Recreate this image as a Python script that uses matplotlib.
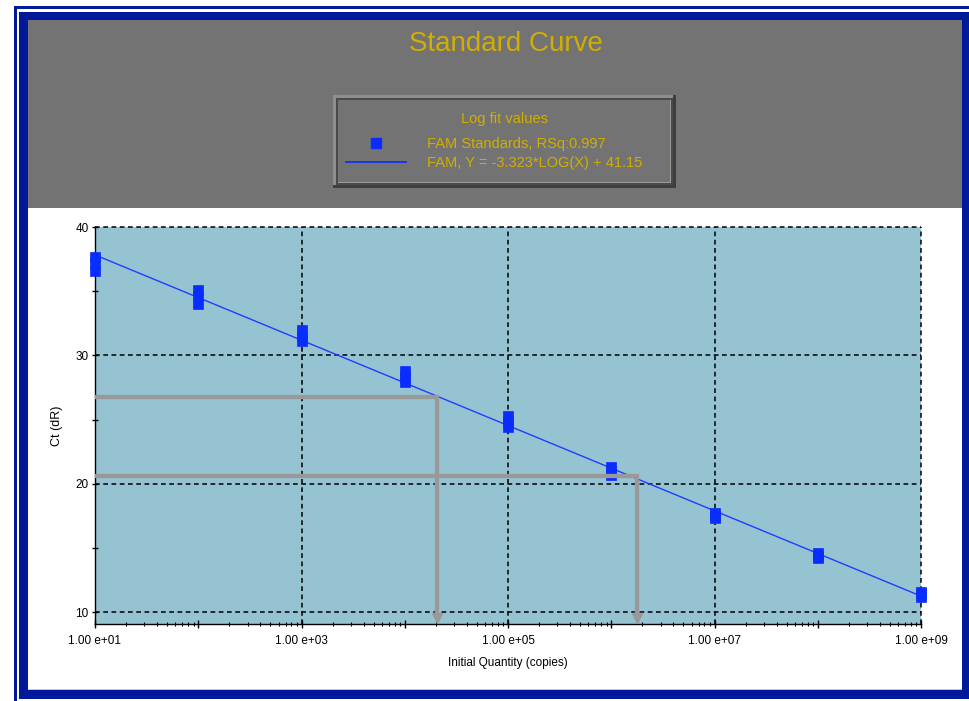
import matplotlib.pyplot as plt
import numpy as np
from matplotlib.patches import Rectangle
from matplotlib.lines import Line2D
from matplotlib.ticker import LogLocator, FuncFormatter, FixedLocator

# Standards (copies) and replicate Ct values
quantities = [1e1, 1e2, 1e3, 1e4, 1e5, 1e6, 1e7, 1e8, 1e9]
ct_rep_a = [37.7, 35.1, 32.0, 28.8, 25.3, 21.3, 17.7, 14.6, 11.6]
ct_rep_b = [37.2, 34.6, 31.5, 28.3, 24.8, 21.0, 17.5, 14.4, 11.4]
ct_rep_c = [36.6, 34.0, 31.1, 27.9, 24.4, 20.7, 17.3, 14.2, 11.2]

# log fit from the legend
fit_slope = -3.323
fit_intercept = 41.15

# unknowns read back through the curve (grey arrows)
unknown_ct = [26.75, 20.62]
unknown_qty = [10 ** 4.314, 10 ** 6.252]

W, H = 969, 701
NAVY = '#00189a'
GOLD = '#d2ae00'
HEADER = '#737373'
PLOT_BG = '#96c3d2'
BLUE = '#0a2dff'
GREY = '#999999'
FONT = 'Liberation Sans'

fig = plt.figure(figsize=(W / 100, H / 100), dpi=100)
fig.patch.set_facecolor('white')


def px_rect(x0, y0, x1, y1, color, z=0):
    """rectangle given in pixel coords (origin top-left)"""
    fig.add_artist(Rectangle((x0 / W, 1 - y1 / H), (x1 - x0) / W, (y1 - y0) / H,
                             transform=fig.transFigure, facecolor=color,
                             edgecolor='none', zorder=z))


def fx(x):
    return x / W


def fy(y):
    return 1 - y / H


# window frame
px_rect(14, 6, 969, 9, NAVY)
px_rect(14, 6, 17, 701, NAVY)
px_rect(19, 12, 969, 699, NAVY)
px_rect(28, 20, 962, 208, HEADER)
px_rect(28, 208, 962, 690, 'white')
px_rect(28, 689, 962, 690, '#c8c8c8')

fig.text(fx(506), fy(44), 'Standard Curve', color=GOLD, fontsize=20,
         family=FONT, ha='center', va='center')

# legend box with bevel
px_rect(333, 95, 676, 188, '#3e3e3e')
px_rect(333, 95, 673, 185, '#8e8e8e')
px_rect(336, 98, 673, 185, '#4a4a4a')
px_rect(338, 100, 671, 183, '#9a9a9a')
px_rect(338, 100, 670, 182, HEADER)

fig.text(fx(505), fy(119), 'Log fit values', color=GOLD, fontsize=10.5,
         family=FONT, ha='center', va='center')
fig.add_artist(Line2D([fx(376)], [fy(143)], marker='s', ms=6.5, color=BLUE,
                      transform=fig.transFigure))
fig.add_artist(Line2D([fx(346), fx(406)], [fy(162), fy(162)], color=BLUE, lw=1.2,
                      transform=fig.transFigure))
fig.text(fx(427), fy(144), 'FAM Standards, RSq:0.997', color=GOLD, fontsize=10.5,
         family=FONT, ha='left', va='center')
fig.text(fx(427), fy(163), 'FAM, Y = -3.323*LOG(X) + 41.15', color=GOLD, fontsize=10.5,
         family=FONT, ha='left', va='center')

# plot area
ax = fig.add_axes([fx(95), fy(624), (921 - 95) / W, (624 - 227) / H])
ax.set_facecolor(PLOT_BG)
ax.set_xscale('log')
ax.set_xlim(1e1, 1e9)
ax.set_ylim(9.07, 40)

dash = (0, (3.1, 2.3))
for gx in [1e3, 1e5, 1e7, 1e9]:
    ax.axvline(gx, color='black', ls=dash, lw=1.1, clip_on=False, zorder=1)
for gy in [10, 20, 30, 40]:
    ax.axhline(gy, color='black', ls=dash, lw=1.1, clip_on=False, zorder=1)

for s in ['top', 'right']:
    ax.spines[s].set_visible(False)
for s in ['left', 'bottom']:
    ax.spines[s].set_linewidth(1.0)

fit_x = np.array([quantities[0], quantities[-1]])
fit_y = fit_slope * np.log10(fit_x) + fit_intercept
ax.plot(fit_x, fit_y, color='#1f3cff', lw=1.0, zorder=3)

for reps in [ct_rep_a, ct_rep_b, ct_rep_c]:
    ax.plot(quantities, reps, 's', ms=6.5, color=BLUE, mec=BLUE, mew=0.5,
            zorder=4, clip_on=False)

for q, c in zip(unknown_qty, unknown_ct):
    ax.plot([1e1, q, q], [c, c, 9.6], color=GREY, lw=3.1, solid_joinstyle='miter',
            solid_capstyle='butt', zorder=5)
    ax.plot([q], [9.52], 'v', ms=7.2, color=GREY, zorder=5, clip_on=False)

ax.xaxis.set_major_locator(LogLocator(base=10, numticks=20))
ax.xaxis.set_minor_locator(LogLocator(base=10, subs=np.arange(2, 10), numticks=20))


def fmt_q(v, pos):
    e = int(round(np.log10(v)))
    return '1.00 e+%02d' % e if e % 2 == 1 else ''


ax.xaxis.set_major_formatter(FuncFormatter(fmt_q))
ax.xaxis.set_minor_formatter(FuncFormatter(lambda v, p: ''))
ax.yaxis.set_major_locator(FixedLocator([10, 20, 30, 40]))
ax.yaxis.set_minor_locator(FixedLocator([15, 25, 35]))

ax.tick_params(axis='x', which='major', direction='inout', length=6, width=1, pad=5,
               labelsize=8.5)
ax.tick_params(axis='x', which='minor', direction='inout', length=3.5, width=0.8)
ax.tick_params(axis='y', which='both', direction='inout', length=5, width=1, pad=2,
               labelsize=8.5)
for lab in ax.get_xticklabels() + ax.get_yticklabels():
    lab.set_family(FONT)

ax.set_xlabel('Initial Quantity (copies)', fontsize=8.5, family=FONT, labelpad=7)
ax.set_ylabel('Ct (dR)', fontsize=9, family=FONT, labelpad=9)

fig.savefig('out.png', dpi=100, facecolor=fig.get_facecolor())
